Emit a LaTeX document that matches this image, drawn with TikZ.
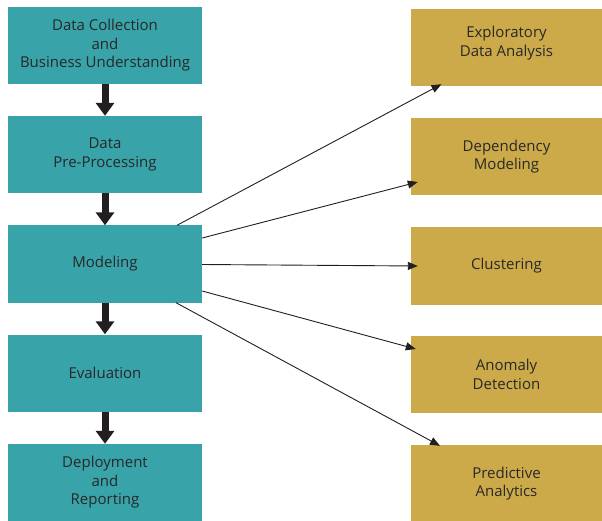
\documentclass[tikz,border=0pt]{standalone}
\usepackage{fontspec}
\setmainfont{Open Sans}
\usetikzlibrary{arrows.meta,calc}
\definecolor{tealbox}{RGB}{56,163,168}
\definecolor{goldbox}{RGB}{204,170,74}
\definecolor{txt}{RGB}{40,40,40}
\definecolor{arr}{RGB}{35,31,32}
\tikzset{
  leftbox/.style={fill=tealbox, draw=none, minimum width=194bp, minimum height=77bp, inner sep=0pt, align=center, text=txt, font=\fontsize{15bp}{18.5bp}\selectfont},
  rightbox/.style={fill=goldbox, draw=none, minimum width=191bp, minimum height=77bp, inner sep=0pt, align=center, text=txt, font=\fontsize{15bp}{18.5bp}\selectfont},
  thickarrow/.style={draw=arr, line width=7bp, -{Triangle[length=13bp,width=18bp]}},
  thinarrow/.style={draw=arr, line width=0.9bp, -{Triangle[length=10bp,width=8bp]}}
}
\begin{document}
\begin{tikzpicture}[x=1bp,y=-1bp]
\useasboundingbox (0,0) rectangle (602,521);
\node[leftbox] (m1) at (105,45.5) {Data Collection\\and\\Business Understanding};
\node[leftbox] (m2) at (105,154.5) {Data\\Pre-Processing};
\node[leftbox] (m3) at (105,264) {Modeling};
\node[leftbox] (m4) at (105,373) {Evaluation};
\node[leftbox] (m5) at (105,482.5) {Deployment\\and\\Reporting};
\node[rightbox] (r1) at (506.5,47.5) {};
\node[font=\fontsize{15bp}{18.5bp}\selectfont, text=txt, align=center] (r1t) at (506.5,43) {Exploratory\\Data Analysis};
\node[rightbox] (r2) at (506.5,156.5) {Dependency\\Modeling};
\node[rightbox] (r3) at (506.5,266) {Clustering};
\node[rightbox] (r4) at (506.5,374.5) {Anomaly\\Detection};
\node[rightbox] (r5) at (506.5,483.5) {Predictive\\Analytics};
\draw[thickarrow] (m1.south) -- (m2.north);
\draw[thickarrow] (m2.south) -- (m3.north);
\draw[thickarrow] (m3.south) -- (m4.north);
\draw[thickarrow] (m4.south) -- (m5.north);
\draw[thinarrow] ($(m3.north)+(72,0)$) -- ($(r1.south)+(-65,-2)$);
\draw[thinarrow] ($(m3.east)+(0,-26)$) -- ($(r2.west)+(7,25.5)$);
\draw[thinarrow] ($(m3.east)+(0,0.5)$) -- ($(r3.west)+(7,0)$);
\draw[thinarrow] ($(m3.east)+(0,27)$) -- ($(r4.west)+(5,-25.5)$);
\draw[thinarrow] ($(m3.south)+(71,0)$) -- ($(r5.north)+(-66.5,1)$);
\end{tikzpicture}
\end{document}
